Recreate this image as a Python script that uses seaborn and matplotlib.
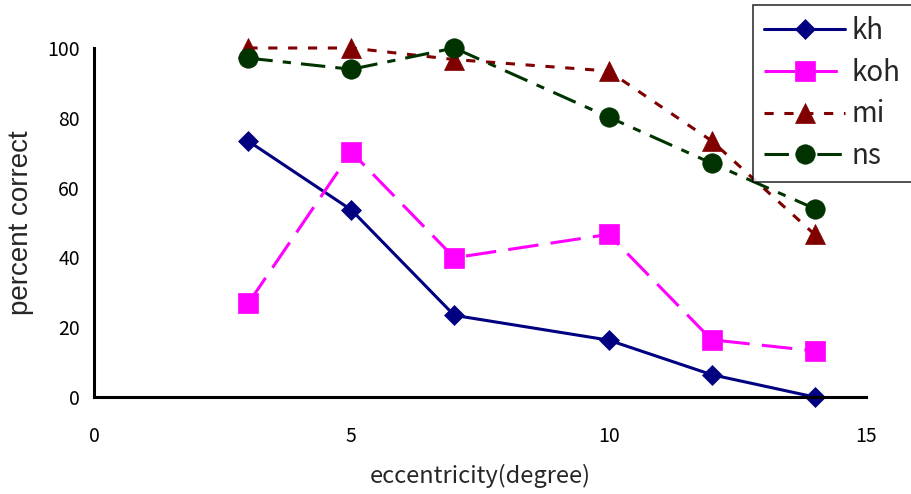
import matplotlib
matplotlib.use("Agg")
import matplotlib.pyplot as plt
import seaborn as sns
import pandas as pd

# eccentricity (degree) of each test position
eccentricity = [3, 5, 7, 10, 12, 14]

# percent correct per observer
kh = [73.3, 53.6, 23.4, 16.3, 6.4, 0.0]
koh = [26.9, 70.2, 39.9, 46.6, 16.4, 13.2]
mi = [100.0, 100.0, 96.7, 93.4, 73.4, 46.6]
ns = [97.1, 93.9, 100.0, 80.2, 67.0, 54.0]

observers = ["kh", "koh", "mi", "ns"]
x_ticks = [0, 5, 10, 15]
y_ticks = [0, 20, 40, 60, 80, 100]

sns.set_style("white")
plt.rcParams["font.family"] = ["Noto Sans CJK JP", "DejaVu Sans"]

styles = {
    "kh": dict(color="#000080", marker="D", markersize=10.5, linestyle="-"),
    "koh": dict(color="#FF00FF", marker="s", markersize=14, linestyle=(0, (10, 4))),
    "mi": dict(color="#800000", marker="^", markersize=14, linestyle=(0, (3, 3.5))),
    "ns": dict(color="#003300", marker="o", markersize=14,
               linestyle=(0, (8, 3.3, 2.7, 3.3))),
}

fig = plt.figure(figsize=(9.12, 4.94), dpi=100)
ax = fig.add_axes([94 / 912, 97 / 494, 772 / 912, 349 / 494])

values = {"kh": kh, "koh": koh, "mi": mi, "ns": ns}
for name in observers:
    df = pd.DataFrame({"eccentricity": eccentricity, "percent": values[name]})
    st = styles[name]
    sns.lineplot(data=df, x="eccentricity", y="percent", ax=ax, label=name,
                 color=st["color"], marker=st["marker"], markersize=st["markersize"],
                 linestyle=st["linestyle"], linewidth=2.2,
                 markeredgecolor=st["color"], markeredgewidth=0.5,
                 clip_on=False, legend=False)

ax.set_xlim(0, 15)
ax.set_ylim(0, 100)
ax.set_xticks(x_ticks)
ax.set_yticks(y_ticks)
ax.tick_params(axis="both", direction="in", length=5, width=2, colors="black",
               labelsize=14, pad=10)
ax.tick_params(axis="x", pad=21)
for side in ["top", "right"]:
    ax.spines[side].set_visible(False)
for side in ["left", "bottom"]:
    ax.spines[side].set_linewidth(2.2)
    ax.spines[side].set_color("black")

ax.set_xlabel("eccentricity(degree)", fontsize=17, labelpad=12)
ax.set_ylabel("percent correct", fontsize=20, labelpad=10,
              family=["Liberation Sans", "DejaVu Sans"])

handles, labels = ax.get_legend_handles_labels()
leg = fig.legend(handles, labels, loc="upper right", bbox_to_anchor=(1.0, 1 - 5 / 494),
                 fontsize=20, frameon=True, fancybox=False, edgecolor="black",
                 handlelength=2.9, handletextpad=0.25, labelspacing=0.42,
                 borderpad=0.4, borderaxespad=0)
leg.get_frame().set_linewidth(1.2)

fig.savefig("out.png", dpi=100)
